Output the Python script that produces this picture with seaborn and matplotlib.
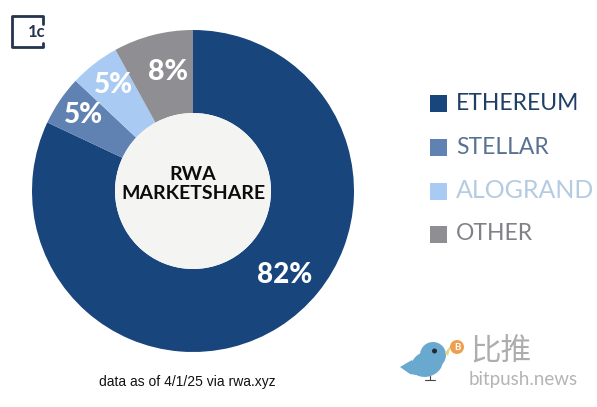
import matplotlib
matplotlib.use('Agg')
import matplotlib.pyplot as plt
from matplotlib.patches import Circle, Ellipse, Polygon, Rectangle
import seaborn as sns

# values
chains = ['ETHEREUM', 'STELLAR', 'ALOGRAND', 'OTHER']
shares = [82, 5, 5, 8]
slice_colors = ['#17457c', '#5f82b2', '#a9cbf3', '#8f8f93']
legend_text_colors = ['#1f3f66', '#5a7291', '#b5cbe2', '#808186']

sns.set_theme(style='white')
plt.rcParams['font.family'] = ['Lato', 'DejaVu Sans']

H = 407
fig, ax = plt.subplots(figsize=(5.97, 4.07), dpi=100)
fig.subplots_adjust(0, 0, 1, 1)

# === Donut ===
ax.pie(shares, colors=slice_colors, startangle=90, counterclock=False,
       center=(193, H - 191), radius=161, frame=True,
       wedgeprops={'width': 83, 'linewidth': 0})
ax.add_patch(Circle((193, H - 191), 78, color='#f4f4f2', lw=0, zorder=3))
ax.set_xlim(0, 597)
ax.set_ylim(0, H)
ax.set_aspect('equal')
ax.axis('off')

# Slice labels
label_pos = [(285, 275), (83, 115), (113, 85), (168, 72)]
label_size = [20, 20, 20, 20.5]
for val, (x, y), size in zip(shares, label_pos, label_size):
    ax.text(x, H - y, f'{val}%', color='white', fontsize=size, fontweight='black',
            ha='center', va='center', zorder=4)

ax.text(193, H - 184, 'RWA\nMARKETSHARE', color='#0c0c0c', fontsize=14, fontweight='bold',
        ha='center', va='center', linespacing=1.2, zorder=4)

# === Legend ===
legend_y = [103, 147, 191, 234]
legend_size = [16.5, 16.5, 18, 16.5]
for name, c, tc, y, size in zip(chains, slice_colors, legend_text_colors, legend_y, legend_size):
    ax.add_patch(Rectangle((430, H - y - 8.5), 17, 17, color=c, lw=0))
    ax.text(456, H - y, name, color=tc, fontsize=size, ha='left', va='center')

ax.text(187, H - 382, 'data as of 4/1/25 via rwa.xyz', color='#111111', fontsize=10,
        family=['Liberation Sans Narrow', 'Liberation Sans'], ha='center', va='center')

# === 1C logo ===
ax.plot([43, 43, 12, 12, 43, 43], [H - 43, H - 47, H - 47, H - 16, H - 16, H - 24], color='#24344f', lw=2)
ax.text(36.5, H - 32, '1c', color='#24344f', fontsize=12, fontweight='bold', ha='center', va='center')

# === Watermark ===
bird = '#6aa9cf'
ax.add_patch(Ellipse((427, H - 364), 32, 25, angle=20, color=bird, lw=0))
ax.add_patch(Circle((433, H - 355), 13, color=bird, lw=0))
ax.add_patch(Polygon([(400, H - 367), (412, H - 360), (422, H - 376), (410, H - 374)], color=bird, lw=0))
ax.add_patch(Circle((434.5, H - 351), 2.5, color='#222b33', lw=0))
ax.add_patch(Polygon([(445, H - 353), (451, H - 345), (448, H - 356)], color='#e8d27a', lw=0))
ax.plot([430, 430], [H - 376, H - 380], color='#444444', lw=0.8)
ax.plot([425, 435], [H - 380, H - 380], color='#444444', lw=0.8)
ax.add_patch(Circle((457, H - 347), 7, color='#eda04f', lw=0))
ax.text(457, H - 347, 'B', color='white', fontsize=7, fontweight='bold', ha='center', va='center')
ax.text(501, H - 352, '比推', color='#adadad', fontsize=22, family=['Noto Sans CJK SC', 'DejaVu Sans'],
        ha='center', va='center')
ax.text(523, H - 380, 'bitpush.news', color='#b4b4b4', fontsize=13.5, ha='center', va='center')

fig.savefig('out.png', dpi=100)
